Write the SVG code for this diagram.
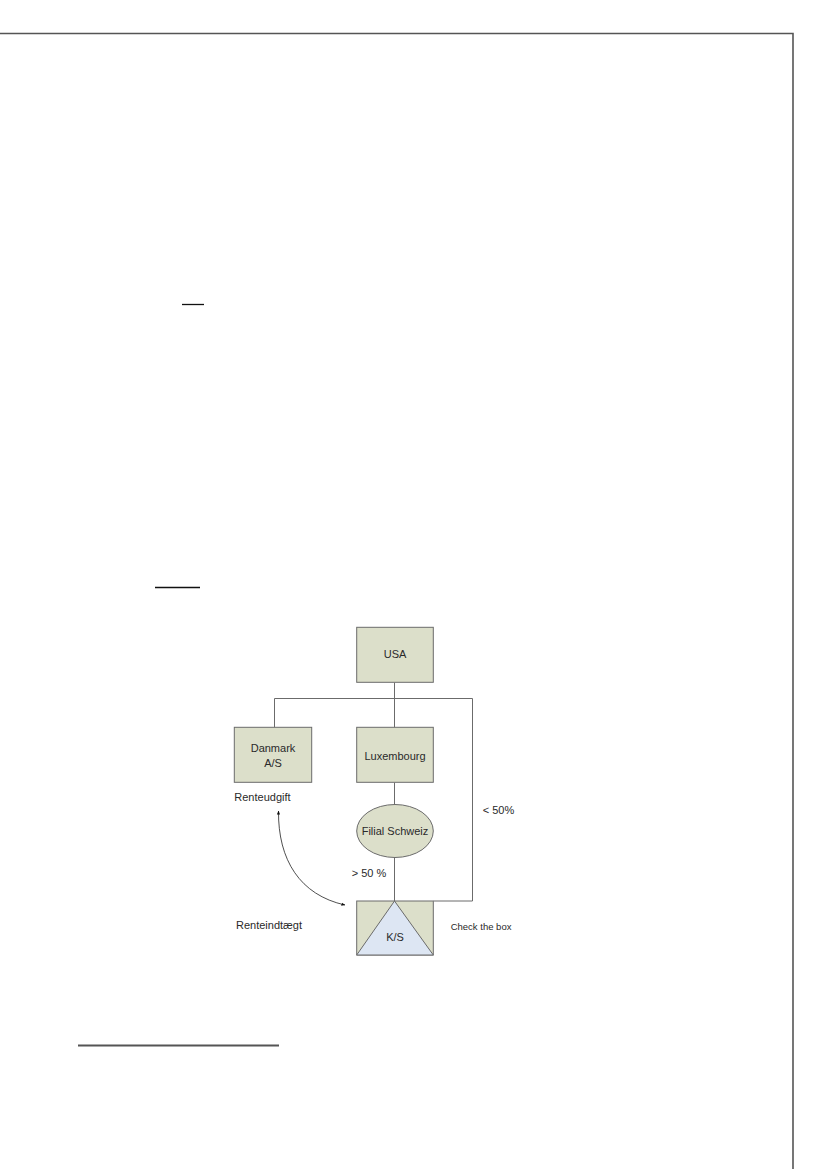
<svg xmlns="http://www.w3.org/2000/svg" width="827" height="1169" viewBox="0 0 827 1169">
<style>
.box{fill:#dcdfca;stroke:#6b6b6b;stroke-width:1}
.tri{fill:#dde6f3;stroke:#6b6b6b;stroke-width:1}
.ln{fill:none;stroke:#6b6b6b;stroke-width:1}
.t{font-family:"Liberation Sans",Arial,sans-serif;font-size:11px;fill:#2a2a2a}
.c{text-anchor:middle}
.page{stroke:#555;stroke-width:1.6;fill:none}
.ul{stroke:#111;stroke-width:1.3}
</style>
<defs>
<marker id="ah" viewBox="0 0 10 10" refX="9" refY="5" markerWidth="5" markerHeight="5" orient="auto-start-reverse">
<path d="M0,1 L10,5 L0,9 z" fill="#111"/>
</marker>
</defs>
<rect width="827" height="1169" fill="#fff"/>
<g id="page">
<path class="page" d="M0,33.5 H793 V1169"/>
<line class="ul" x1="182" y1="304.5" x2="204" y2="304.5"/>
<line class="ul" x1="155" y1="587.5" x2="200" y2="587.5"/>
<line x1="78" y1="1045.5" x2="279" y2="1045.5" stroke="#555" stroke-width="2"/>
</g>
<g id="connectors">
<path class="ln" d="M394.5,682.5 V727.5"/>
<path class="ln" d="M274.5,727.5 V698.5 H472.5 V901 H433.5"/>
<path class="ln" d="M394.5,782.5 V804.5"/>
<path class="ln" d="M394.5,857.5 V901"/>
<path d="M278.5,811 C278,860 300,895 345,905" fill="none" stroke="#222" stroke-width="0.8" marker-start="url(#ah)" marker-end="url(#ah)"/>
</g>
<g id="usa">
<rect class="box" x="356.7" y="627.3" width="76.6" height="55"/>
<text class="t c" x="395" y="658">USA</text>
</g>
<g id="danmark">
<rect class="box" x="234.3" y="727.3" width="77.4" height="55"/>
<text class="t c" x="273" y="752">Danmark</text>
<text class="t c" x="273" y="766.5">A/S</text>
</g>
<g id="luxembourg">
<rect class="box" x="356.7" y="727.3" width="76.6" height="55"/>
<text class="t c" x="395" y="759.5">Luxembourg</text>
</g>
<g id="filial">
<ellipse class="box" cx="395" cy="831" rx="38.3" ry="26.5"/>
<text class="t c" x="395" y="834.5">Filial Schweiz</text>
</g>
<g id="ks">
<rect class="box" x="356.7" y="901" width="76.6" height="54"/>
<path class="tri" d="M394.5,901 L433.3,955 L356.7,955 Z"/>
<text class="t c" x="395" y="940.5">K/S</text>
</g>
<g id="labels">
<text class="t" x="234.3" y="801">Renteudgift</text>
<text class="t" x="482.7" y="814">&lt; 50%</text>
<text class="t" x="351.7" y="877">&gt; 50 %</text>
<text class="t" x="236" y="928.5">Renteindtægt</text>
<text class="t" x="450.7" y="930" style="font-size:9.5px">Check the box</text>
</g>
</svg>
